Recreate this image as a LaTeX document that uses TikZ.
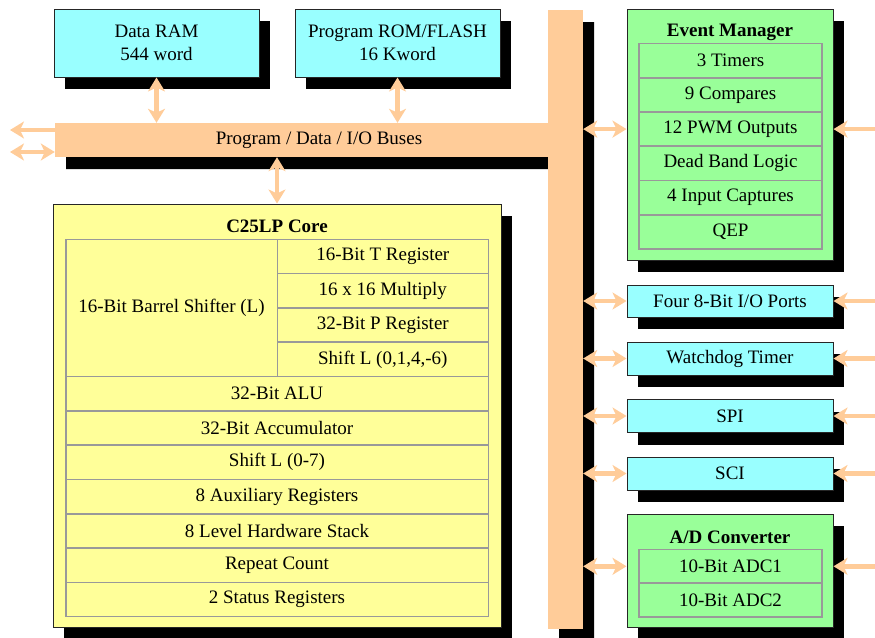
\documentclass[tikz,border=0pt]{standalone}
\usepackage{fontspec}
\setmainfont{Liberation Serif}
\usetikzlibrary{arrows.meta,shadows}
\definecolor{busorange}{HTML}{FFCC99}
\definecolor{memcyan}{HTML}{99FFFF}
\definecolor{periphgreen}{HTML}{99FF99}
\definecolor{coreyellow}{HTML}{FFFF99}
\definecolor{cellgray}{HTML}{999999}
\tikzset{
  shade box/.style={drop shadow={shadow xshift=11pt,shadow yshift=-12pt,fill=black,opacity=1}},
  unit/.style={draw=black!85,line width=1pt,shade box,inner sep=0pt,align=center},
  cell/.style={draw=cellgray,line width=1.6pt,inner sep=0pt},
  head/.style={font=\fontsize{19}{23}\selectfont\bfseries},
  link/.style={draw=busorange,line width=4.5pt,{Stealth[length=14pt,width=17pt,inset=4pt]}-{Stealth[length=14pt,width=17pt,inset=4pt]}},
  inlink/.style={draw=busorange,line width=4.5pt,-{Stealth[length=14pt,width=17pt,inset=4pt]}},
}

\begin{document}
\begin{tikzpicture}[x=1pt,y=-1pt,font=\fontsize{19}{23}\selectfont]
\clip (0,0) rectangle (875,637);

% bus shadow and bus
\fill[black] (66,135) rectangle (594,169) (559,22) rectangle (594,650);
\node[fill=busorange,inner sep=0pt,minimum width=35pt,minimum height=619pt](vbus) at (565.5,319.5) {};
\node[fill=busorange,inner sep=0pt,minimum width=528pt,minimum height=34pt](hbus) at (319,140) {Program / Data / I/O Buses};

% memories
\node[unit,fill=memcyan,minimum width=205pt,minimum height=68pt](ram) at (156.5,43) {Data RAM\\544 word};
\node[unit,fill=memcyan,minimum width=205pt,minimum height=68pt](rom) at (397.5,43) {Program ROM/FLASH\\16 Kword};

% core
\node[unit,fill=coreyellow,minimum width=448pt,minimum height=423pt](core) at (277,415.5) {};
\node[head](coretitle) at (277,226) {C25LP Core};
\node[cell,minimum width=211.6pt,minimum height=137.2pt](shifter) at (171.5,307.9) {16-Bit Barrel Shifter (L)};
\node[cell,minimum width=211pt,minimum height=34.3pt](treg) at (382.8,256.45) {16-Bit T Register};
\node[cell,minimum width=211pt,minimum height=34.3pt](mult) at (382.8,290.75) {16 x 16 Multiply};
\node[cell,minimum width=211pt,minimum height=34.3pt](preg) at (382.8,325.05) {32-Bit P Register};
\node[cell,minimum width=211pt,minimum height=34.3pt](pshift) at (382.8,359.35) {Shift L (0,1,4,-6)};
\node[cell,minimum width=422.6pt,minimum height=34.3pt](alu) at (277,393.65) {32-Bit ALU};
\node[cell,minimum width=422.6pt,minimum height=34.3pt](acc) at (277,427.95) {32-Bit Accumulator};
\node[cell,minimum width=422.6pt,minimum height=34.3pt](ashift) at (277,462.25) {Shift L (0-7)};
\node[cell,minimum width=422.6pt,minimum height=34.3pt](aux) at (277,496.55) {8 Auxiliary Registers};
\node[cell,minimum width=422.6pt,minimum height=34.3pt](stack) at (277,530.85) {8 Level Hardware Stack};
\node[cell,minimum width=422.6pt,minimum height=34.3pt](rpt) at (277,565.15) {Repeat Count};
\node[cell,minimum width=422.6pt,minimum height=34.3pt](status) at (277,599.45) {2 Status Registers};

% event manager
\node[unit,fill=periphgreen,minimum width=206pt,minimum height=251pt](em) at (730,134.5) {};
\node[head](emtitle) at (730,32) {Event Manager};
\node[cell,minimum width=183pt,minimum height=34.25pt](timers) at (730.5,60.6) {3 Timers};
\node[cell,minimum width=183pt,minimum height=34.25pt](cmp) at (730.5,94.9) {9 Compares};
\node[cell,minimum width=183pt,minimum height=34.25pt](pwm) at (730.5,129.1) {12 PWM Outputs};
\node[cell,minimum width=183pt,minimum height=34.25pt](dead) at (730.5,163.4) {Dead Band Logic};
\node[cell,minimum width=183pt,minimum height=34.25pt](cap) at (730.5,197.6) {4 Input Captures};
\node[cell,minimum width=183pt,minimum height=34.25pt](qep) at (730.5,231.9) {QEP};

% peripherals
\node[unit,fill=memcyan,minimum width=206pt,minimum height=32pt](io) at (730,301) {Four 8-Bit I/O Ports};
\node[unit,fill=memcyan,minimum width=206pt,minimum height=33pt](wd) at (730,358.5) {Watchdog Timer};
\node[unit,fill=memcyan,minimum width=206pt,minimum height=33pt](spi) at (730,416) {SPI};
\node[unit,fill=memcyan,minimum width=206pt,minimum height=33pt](sci) at (730,473.5) {SCI};

% A/D converter
\node[unit,fill=periphgreen,minimum width=206pt,minimum height=113pt](adc) at (730,570.5) {};
\node[head](adctitle) at (730,537) {A/D Converter};
\node[cell,minimum width=183pt,minimum height=33.7pt](adc1) at (730.5,566.3) {10-Bit ADC1};
\node[cell,minimum width=183pt,minimum height=33.7pt](adc2) at (730.5,600) {10-Bit ADC2};

\coordinate (west1) at (10,130);
\coordinate (west2) at (10,152);
\coordinate (edge) at (900,0);

\draw[link] (ram.south) -- (ram.south |- hbus.north);
\draw[link] (rom.south) -- (rom.south |- hbus.north);
\draw[link] (core.north) -- (core.north |- hbus.south);
\draw[inlink] (hbus.west |- west1) -- (west1);
\draw[link] (west2) -- (west2 -| hbus.west);

\draw[link] (vbus.east |- pwm) -- (em.west |- pwm);
\draw[link] (vbus.east |- io) -- (io.west);
\draw[link] (vbus.east |- wd) -- (wd.west);
\draw[link] (vbus.east |- spi) -- (spi.west);
\draw[link] (vbus.east |- sci) -- (sci.west);
\draw[link] (vbus.east |- adc1) -- (adc.west |- adc1);

\draw[link] (em.east |- pwm) -- (edge |- pwm);
\draw[link] (io.east) -- (edge |- io);
\draw[link] (wd.east) -- (edge |- wd);
\draw[link] (spi.east) -- (edge |- spi);
\draw[link] (sci.east) -- (edge |- sci);
\draw[inlink] (edge |- adc1) -- (adc.east |- adc1);
\end{tikzpicture}
\end{document}
